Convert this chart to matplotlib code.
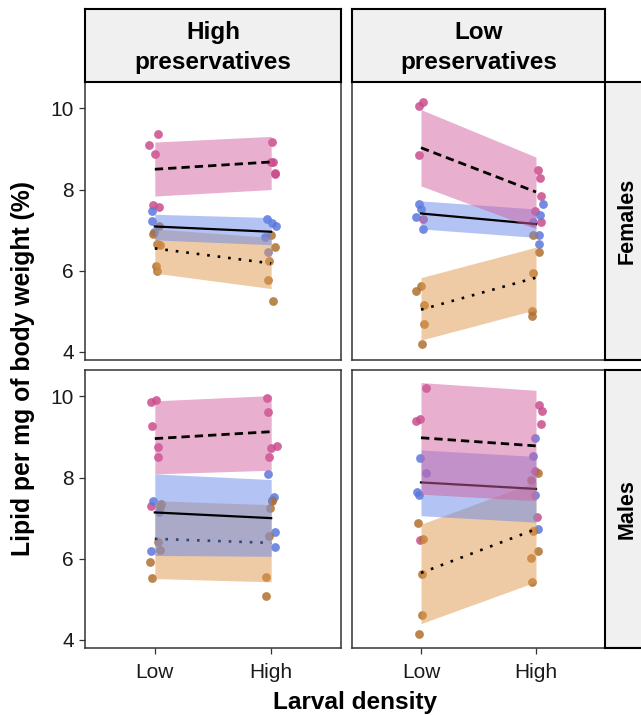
import numpy as np
import matplotlib
matplotlib.use("Agg")
import matplotlib.pyplot as plt

plt.rcParams['font.family'] = ['Liberation Sans', 'DejaVu Sans']

levels = ['Low', 'High']
groups = ['A', 'B', 'C']
col_titles = ['High\npreservatives', 'Low\npreservatives']
row_titles = ['Females', 'Males']

# fitted means (Low, High) per group, per panel
mean_hf = {'A': [8.50, 8.68], 'B': [7.09, 6.96], 'C': [6.55, 6.18]}
mean_lf = {'A': [9.03, 7.94], 'B': [7.41, 7.15], 'C': [5.04, 5.83]}
mean_hm = {'A': [8.96, 9.13], 'B': [7.14, 7.00], 'C': [6.49, 6.39]}
mean_lm = {'A': [8.98, 8.78], 'B': [7.88, 7.72], 'C': [5.65, 6.73]}

# band lower / upper (Low, High)
lo_hf = {'A': [7.84, 8.00], 'B': [6.76, 6.64], 'C': [5.94, 5.56]}
hi_hf = {'A': [9.17, 9.31], 'B': [7.39, 7.31], 'C': [7.03, 6.82]}
lo_lf = {'A': [8.09, 7.03], 'B': [7.03, 6.82], 'C': [4.29, 5.04]}
hi_lf = {'A': [9.97, 8.80], 'B': [7.72, 7.52], 'C': [5.83, 6.58]}
lo_hm = {'A': [8.09, 8.18], 'B': [6.08, 6.06], 'C': [5.51, 5.43]}
hi_hm = {'A': [9.89, 10.02], 'B': [8.09, 7.95], 'C': [7.43, 7.33]}
lo_lm = {'A': [7.59, 7.43], 'B': [7.06, 6.90], 'C': [4.40, 5.43]}
hi_lm = {'A': [10.34, 10.15], 'B': [8.68, 8.52], 'C': [6.85, 7.90]}

# raw observations: group -> (Low values, High values)
obs_hf = {'A': ([9.37, 9.09, 8.88, 7.62, 7.57], [9.18, 8.68, 8.68, 8.40, 8.38]),
          'B': ([7.48, 7.23, 6.95], [7.27, 7.17, 7.10, 6.82, 6.46]),
          'C': ([7.09, 6.90, 6.66, 6.63, 6.11, 6.00], [6.89, 6.58, 6.23, 5.78, 5.25])}
obs_lf = {'A': ([10.07, 10.15, 8.85, 7.27], [8.47, 8.29, 7.84, 7.46, 7.21]),
          'B': ([7.64, 7.52, 7.33, 7.04], [7.64, 7.38, 7.19, 6.89, 6.65]),
          'C': ([5.62, 5.51, 5.15, 4.68, 4.19], [6.89, 6.47, 5.95, 5.00, 4.88])}
obs_hm = {'A': ([9.87, 9.91, 9.26, 8.75, 8.51, 7.31], [9.97, 9.62, 8.74, 8.78, 8.51]),
          'B': ([7.43, 7.14, 6.20], [8.09, 7.53, 7.45, 6.67, 6.29]),
          'C': ([7.35, 7.28, 6.41, 6.21, 5.92, 5.53], [7.43, 7.24, 6.57, 5.55, 5.08])}
obs_lm = {'A': ([10.21, 9.39, 9.44, 6.45], [9.79, 9.63, 9.31, 8.15, 7.02]),
          'B': ([8.47, 8.11, 7.65, 7.58], [8.97, 8.52, 7.56, 6.73]),
          'C': ([6.88, 6.49, 5.63, 4.61, 4.15], [8.10, 7.95, 6.68, 6.20, 6.02, 5.43])}

# horizontal jitter of each observation (pixels), same layout as obs_*
jit_hf = {'A': ([3.3, -6, 0, -1.7, 4.3], [1, 0, 1.7, 4.3, 3.7]),
          'B': ([-3.3, -2.7, -1], [-4.3, 1, 5, -5.7, -3.3]),
          'C': ([4.3, -2.3, 2.3, 5, 1, 2.3], [0, 4.3, -1.7, -3, 2.3])}
jit_lf = {'A': ([-2, 2.3, -1.7, 1.7], [2, 3.7, 5, -1.3, 5.3]),
          'B': ([-1.7, 0, -5.3, 2.3], [6.7, 4.3, -3, 2.7, 2.7]),
          'C': ([0, -4.7, 3, 3, 1.3], [-3, 3, -2.7, -3.7, -3.7])}
jit_hm = {'A': ([-4, 0.7, -3.3, 3.3, 3.3, -4], [-3.7, -3.3, 0, 5.7, -2]),
          'B': ([-2.3, 3.7, -4], [-2.7, 3.3, 1.3, 4, 4]),
          'C': ([6, 5.3, 2.7, 5.3, -4.7, -2.7], [1, -1, -1.7, -5.3, -5.3])}
jit_lm = {'A': ([4.7, -5, -0.7, -1.3], [2.7, 5.7, 5, -1, 1]),
          'B': ([-1.3, 5.3, -3.7, -1.7], [-0.7, -3.3, -1, 2.3]),
          'C': ([-3, 2, 1, 1.3, -1.7], [2, -4.7, -3.3, 2.3, -5, -4])}

panels = [[(mean_hf, lo_hf, hi_hf, obs_hf, jit_hf), (mean_lf, lo_lf, hi_lf, obs_lf, jit_lf)],
          [(mean_hm, lo_hm, hi_hm, obs_hm, jit_hm), (mean_lm, lo_lm, hi_lm, obs_lm, jit_lm)]]

point_col = {'A': '#C94C8C', 'B': '#5A78DC', 'C': '#B0702F'}
band_col = {'A': '#D4609F', 'B': '#6888EB', 'C': '#E1994D'}
line_style = {'A': (0, (3, 1.8)), 'B': '-', 'C': (0, (1, 3))}
line_w = {'A': 2.0, 'B': 1.6, 'C': 1.9}
draw_order = ['C', 'B', 'A']

W, H = 641, 715
fig = plt.figure(figsize=(W / 100, H / 100), dpi=100)

col_x = [(85, 256), (352, 253)]
row_y = [(82, 278), (370, 278)]
px_to_x = 2.2 / 256
xs = np.array([1, 2])

for r in range(2):
    for c in range(2):
        x0, w = col_x[c]
        y0, h = row_y[r]
        ax = fig.add_axes([x0 / W, 1 - (y0 + h) / H, w / W, h / H])
        mean, lo, hi, obs, jit = panels[r][c]
        for g in groups:
            for k in range(2):
                vals = obs[g][k]
                jx = xs[k] + np.array(jit[g][k]) * px_to_x
                ax.scatter(jx, vals, s=40, color=point_col[g], alpha=0.85,
                           linewidths=0, zorder=1)
        z = 2
        for g in draw_order:
            ax.fill_between(xs, lo[g], hi[g], color=band_col[g], alpha=0.5,
                            linewidth=0, zorder=z)
            ax.plot(xs, mean[g], color='black', linestyle=line_style[g],
                    lw=line_w[g], dash_capstyle='butt', zorder=z + 1)
            z += 2
        ax.set_xlim(0.4, 2.6)
        ax.set_ylim(3.8, 10.65)
        ax.set_yticks([4, 6, 8, 10])
        ax.set_xticks([1, 2])
        for sp in ax.spines.values():
            sp.set_color('#333333')
            sp.set_linewidth(1.1)
        ax.tick_params(axis='both', direction='out', length=4, width=0.9,
                       color='#333333', labelsize=15, labelcolor='#1a1a1a', pad=4)
        ax.tick_params(axis='x', pad=7)
        if r == 1:
            ax.set_xticklabels(levels)
        else:
            ax.tick_params(axis='x', length=0, labelbottom=False)
        if c == 1:
            ax.tick_params(axis='y', length=0, labelleft=False)

        # column strips
        if r == 0:
            sx = fig.add_axes([x0 / W, 1 - 82 / H, w / W, 73 / H])
            sx.set_facecolor('#F0F0F0')
            sx.set_xticks([]); sx.set_yticks([])
            for sp in sx.spines.values():
                sp.set_color('black'); sp.set_linewidth(1.5)
            sx.text(0.5, 0.47, col_titles[c], ha='center', va='center',
                    fontsize=17.5, fontweight='bold', linespacing=1.4,
                    transform=sx.transAxes)
        # row strips (partly off the right edge)
        if c == 1:
            sy = fig.add_axes([605 / W, 1 - (y0 + h) / H, 44 / W, h / H])
            sy.set_facecolor('#F0F0F0')
            sy.set_xticks([]); sy.set_yticks([])
            for sp in sy.spines.values():
                sp.set_color('black'); sp.set_linewidth(1.5)
            sy.text(0.5, 0.5, row_titles[r], ha='center', va='center',
                    rotation=90, fontsize=15.5, fontweight='bold',
                    transform=sy.transAxes)

fig.text(23 / W, 1 - 369 / H, 'Lipid per mg of body weight (%)', rotation=90,
         ha='center', va='center', fontsize=17.8, fontweight='bold')
fig.text(355 / W, 1 - 703 / H, 'Larval density', ha='center', va='center',
         fontsize=17.6, fontweight='bold')

fig.savefig('out.png', dpi=100)
